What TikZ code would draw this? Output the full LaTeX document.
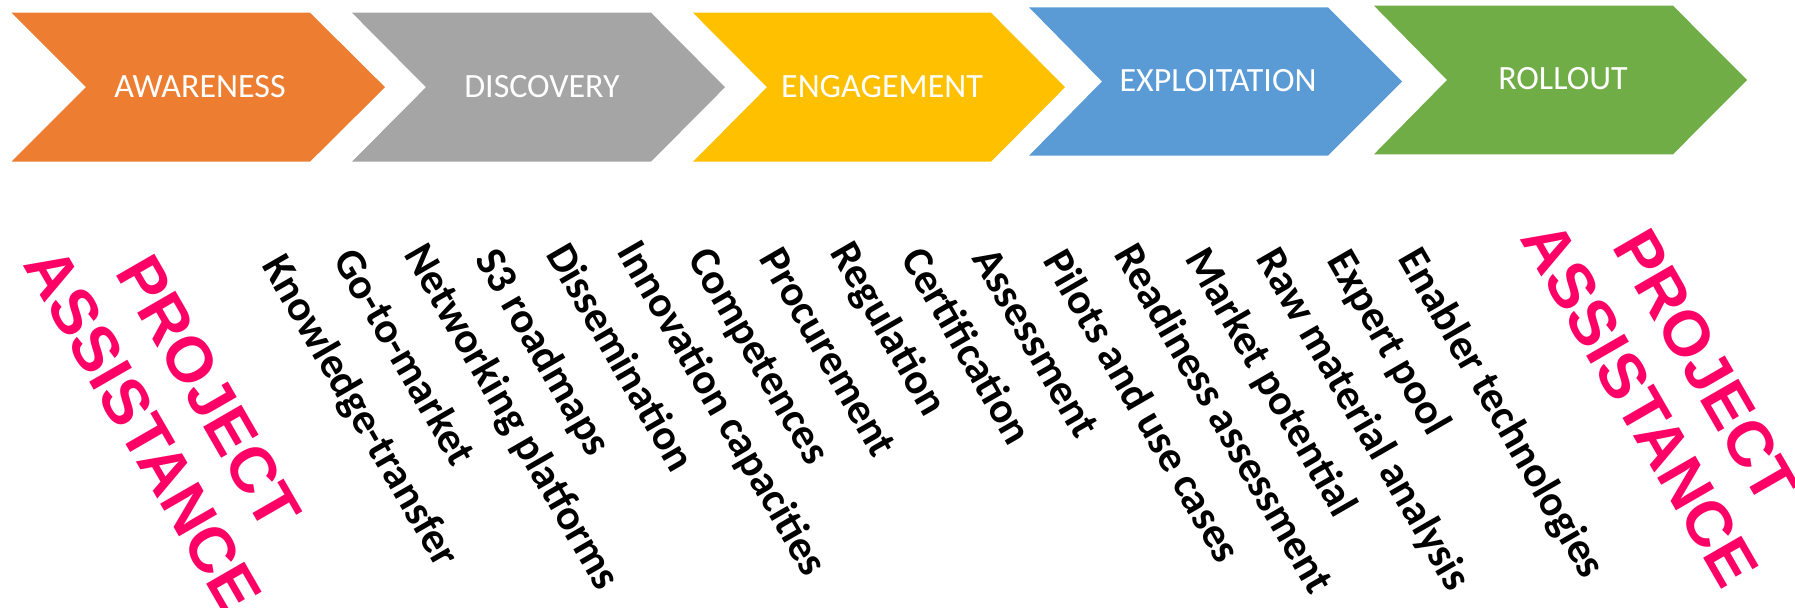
\documentclass[tikz,border=0pt]{standalone}
\usepackage{fontspec}
\setmainfont{Carlito}
\newfontfamily\arialfont{Liberation Sans}
\definecolor{cOrange}{HTML}{ED7D31}
\definecolor{cGray}{HTML}{A5A5A5}
\definecolor{cGold}{HTML}{FFC000}
\definecolor{cBlue}{HTML}{5B9BD5}
\definecolor{cGreen}{HTML}{70AD47}
\definecolor{cPink}{HTML}{FF0066}
\begin{document}
\begin{tikzpicture}[x=0.5pt,y=-0.5pt,
  phase/.style={text=white,inner sep=0pt,anchor=base,font=\fontsize{17}{20}\selectfont},
  item/.style={text=black,inner sep=0pt,anchor=base west,rotate=-60,font=\fontsize{21.5}{26}\selectfont\bfseries},
  assist/.style={text=cPink,inner sep=0pt,anchor=base,rotate=-60,font=\arialfont\bfseries\fontsize{32}{38}\selectfont}]
\useasboundingbox (0,0) rectangle (1795,608);
% process chevrons
\fill[cOrange] (11.5,12.7) -- (310,12.7) -- (385,87.2) -- (310,161.7) -- (11.5,161.7) -- (86,87.2) -- cycle;
\fill[cGray]   (352,12.7) -- (651,12.7) -- (725,87.2) -- (651,161.7) -- (352,161.7) -- (426,87.2) -- cycle;
\fill[cGold]   (693,12.7) -- (991,12.7) -- (1065,87.2) -- (991,161.7) -- (693,161.7) -- (767,87.2) -- cycle;
\fill[cBlue]   (1029,7.3) -- (1328,7.3) -- (1402,81.5) -- (1328,155.7) -- (1029,155.7) -- (1102,81.5) -- cycle;
\fill[cGreen]  (1374,5.7) -- (1673,5.7) -- (1747,80) -- (1673,154.3) -- (1374,154.3) -- (1447,80) -- cycle;
% phase names
\node[phase] (aw) at (200,97.3) {AWARENESS};
\node[phase] (di) at (542,97.3) {DISCOVERY};
\node[phase] (en) at (882,97.3) {ENGAGEMENT};
\node[phase] (ex) at (1218,91.7) {EXPLOITATION};
\node[phase] (ro) at (1563,90) {ROLLOUT};
% support topics
\node[item] (t0)  at (261,265) {Knowledge-transfer};
\node[item] (t1)  at (332,259) {Go-to-market};
\node[item] (t2)  at (403,254) {Networking platforms};
\node[item] (t3)  at (474,259) {S3 roadmaps};
\node[item] (t4)  at (545,254) {Dissemination};
\node[item] (t5)  at (616,251) {Innovation capacities};
\node[item] (t6)  at (687,258) {Competences};
\node[item] (t7)  at (758,258) {Procurement};
\node[item] (t8)  at (829,252) {Regulation};
\node[item] (t9)  at (900,258) {Certification};
\node[item] (t10) at (971,258) {Assessment};
\node[item] (t11) at (1042,260) {Pilots and use cases};
\node[item] (t12) at (1113,254) {Readiness assessment};
\node[item] (t13) at (1184,258) {Market potential};
\node[item] (t14) at (1255,258) {Raw material analysis};
\node[item] (t15) at (1326,260) {Expert pool};
\node[item] (t16) at (1397,258) {Enabler technologies};
% project assistance labels
\node[assist] (pl1) at (189.8,403.4) {PROJECT};
\node[assist] (pl2) at (124,441.4) {ASSISTANCE};
\node[assist] (pr1) at (1686.8,377.4) {PROJECT};
\node[assist] (pr2) at (1621,415.4) {ASSISTANCE};
\end{tikzpicture}
\end{document}
